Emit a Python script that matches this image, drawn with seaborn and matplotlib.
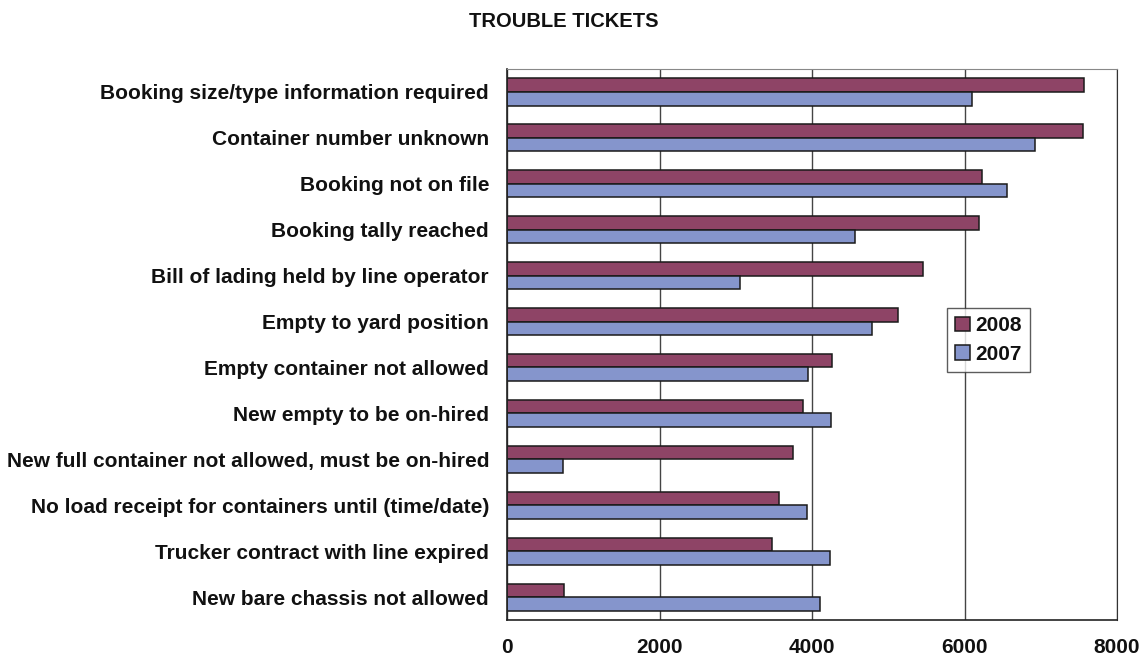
import numpy as np
import pandas as pd
import matplotlib
import matplotlib.pyplot as plt
import seaborn as sns

matplotlib.use('Agg')

categories = [
    "Booking size/type information required",
    "Container number unknown",
    "Booking not on file",
    "Booking tally reached",
    "Bill of lading held by line operator",
    "Empty to yard position",
    "Empty container not allowed",
    "New empty to be on-hired",
    "New full container not allowed, must be on-hired",
    "No load receipt for containers until (time/date)",
    "Trucker contract with line expired",
    "New bare chassis not allowed",
]
tickets_2008 = [7570, 7555, 6235, 6195, 5455, 5125, 4265, 3875, 3745, 3560, 3475, 750]
tickets_2007 = [6095, 6920, 6560, 4565, 3050, 4785, 3945, 4255, 730, 3930, 4235, 4100]
years = ["2008", "2007"]
x_ticks = [0, 2000, 4000, 6000, 8000]

df = pd.DataFrame({
    "category": categories * 2,
    "year": ["2008"] * len(categories) + ["2007"] * len(categories),
    "tickets": tickets_2008 + tickets_2007,
})

sns.set_style("white")
plt.rcParams['font.family'] = ['Liberation Sans', 'DejaVu Sans']
plt.rcParams['text.color'] = '#111111'
plt.rcParams['xtick.color'] = '#111111'
plt.rcParams['ytick.color'] = '#111111'

fig = plt.figure(figsize=(11.41, 6.61), dpi=100)
ax = fig.add_axes([0.4444, 0.062, 0.5346, 0.8336])

palette = {"2008": "#8E4466", "2007": "#8595CC"}
sns.barplot(data=df, y="category", x="tickets", hue="year", hue_order=years,
            order=categories, palette=palette, orient="h", width=0.59,
            edgecolor="#1a1a1a", linewidth=1.1, saturation=1, ax=ax)

ax.set_xlim(0, 8000)
ax.set_ylim(len(categories) - 0.5, -0.5)
ax.set_xticks(x_ticks)
ax.set_xticklabels([str(t) for t in x_ticks], fontsize=15, fontweight='bold')
ax.set_yticks(range(len(categories)))
ax.set_yticklabels(categories, fontsize=15, fontweight='bold')
ax.set_yticks(np.arange(-0.5, len(categories), 1.0), minor=True)
ax.tick_params(axis='y', which='major', length=0, pad=13)
ax.tick_params(axis='y', which='minor', length=4.5, width=1, color='#333333', direction='out')
ax.tick_params(axis='x', length=4, width=1, color='#333333', direction='out', pad=9)
ax.set_xlabel("")
ax.set_ylabel("")

ax.xaxis.grid(True, color='#444444', linewidth=1)
ax.set_axisbelow(True)
for side in ['left', 'bottom']:
    ax.spines[side].set_color('#222222')
    ax.spines[side].set_linewidth(1.2)
ax.spines['top'].set_color('#888888')
ax.spines['right'].set_color('#333333')

leg = ax.legend(loc='upper left', bbox_to_anchor=(0.721, 0.566), frameon=True,
                fancybox=False, edgecolor='#333333', handlelength=0.7,
                handleheight=0.7, handletextpad=0.25, borderpad=0.4,
                borderaxespad=0, labelspacing=0.45,
                prop={'weight': 'bold', 'size': 15})
leg.get_frame().set_linewidth(1)
for h in leg.legend_handles:
    h.set_edgecolor('#1a1a1a')

fig.text(0.494, 0.967, "TROUBLE TICKETS", ha='center', va='center',
         fontsize=14.5, fontweight='bold')

fig.savefig("out.png", dpi=100)
